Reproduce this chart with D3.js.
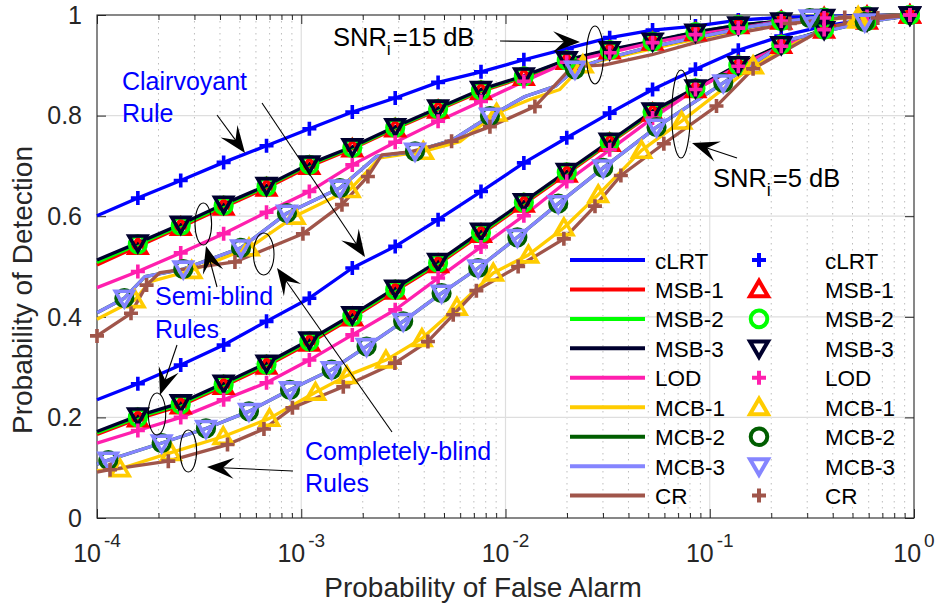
<!DOCTYPE html>
<html><head><meta charset="utf-8">
<script src="https://cdn.jsdelivr.net/npm/d3@7"></script>
<style>body{margin:0;background:#fff}svg{display:block}text{font-family:"Liberation Sans",Arial,Helvetica,sans-serif}</style>
</head><body>
<svg id="chart" width="938" height="606"></svg>
<script>
// ---------------- DATA ----------------
const seriesNames   = ["cLRT","MSB-1","MSB-2","MSB-3","LOD","MCB-1","MCB-2","MCB-3","CR"];
const seriesColors  = ["#0000ff","#ff0000","#00ff00","#00002e","#ff1fae","#ffcc00","#005e00","#8585ff","#a0554a"];
const seriesMarkers = ["plus","triUp","circle","triDown","plus","triUp","circle","triDown","plus"];
const yTicks = [0,0.2,0.4,0.6,0.8,1];
const yTickLabels = ["0","0.2","0.4","0.6","0.8","1"];
const xDecades = [1e-4,1e-3,1e-2,1e-1,1];
const xDecadeExp = ["-4","-3","-2","-1","0"];

// common Pfa grid (cLRT, MSB-1/2/3, LOD)
const pfaGrid = [1e-4,1.585e-4,2.570e-4,4.169e-4,6.761e-4,1.096e-3,1.778e-3,2.884e-3,4.677e-3,7.586e-3,
                 1.230e-2,1.995e-2,3.236e-2,5.248e-2,8.511e-2,0.1380,0.2239,0.3631,0.5888,0.955];
// SNR = 15 dB
const cLRT_15 = [0.601,0.636,0.671,0.707,0.740,0.774,0.807,0.835,0.866,0.887,0.911,0.933,0.955,0.970,0.978,0.990,0.995,0.997,0.999,1.0];
const msb1_15 = [0.503,0.540,0.578,0.618,0.656,0.699,0.734,0.774,0.811,0.848,0.876,0.908,0.929,0.946,0.965,0.979,0.988,0.995,0.998,1.0];
const msb2_15 = [0.508,0.544,0.581,0.621,0.659,0.702,0.736,0.776,0.813,0.850,0.878,0.910,0.930,0.947,0.966,0.980,0.988,0.995,0.998,1.0];
const msb3_15 = [0.513,0.547,0.584,0.624,0.661,0.704,0.738,0.778,0.815,0.852,0.879,0.911,0.931,0.948,0.966,0.980,0.988,0.995,0.998,1.0];
const lod_15  = [0.458,0.490,0.527,0.565,0.608,0.649,0.702,0.747,0.789,0.828,0.868,0.906,0.925,0.945,0.961,0.974,0.988,0.994,0.997,1.0];
// SNR = 5 dB
const cLRT_5 = [0.235,0.267,0.304,0.344,0.391,0.437,0.497,0.540,0.593,0.649,0.706,0.756,0.805,0.852,0.892,0.930,0.958,0.978,0.992,1.0];
const msb1_5 = [0.166,0.197,0.223,0.262,0.302,0.348,0.398,0.451,0.504,0.564,0.624,0.684,0.745,0.805,0.852,0.899,0.940,0.970,0.988,1.0];
const msb2_5 = [0.169,0.200,0.226,0.265,0.305,0.351,0.401,0.454,0.507,0.567,0.627,0.687,0.747,0.807,0.854,0.900,0.941,0.971,0.988,1.0];
const msb3_5 = [0.172,0.203,0.229,0.268,0.308,0.354,0.404,0.457,0.510,0.570,0.629,0.689,0.749,0.809,0.855,0.901,0.941,0.971,0.988,1.0];
const lod_5  = [0.149,0.174,0.200,0.235,0.269,0.314,0.364,0.414,0.477,0.539,0.601,0.669,0.732,0.795,0.852,0.898,0.938,0.971,0.988,1.0];

// completely-blind rules and CR: own Pfa points; mk = 1 where a marker is drawn
const mcb1_15_pfa = [1e-4,1.534e-4,1.817e-4,2.908e-4,5.546e-4,9.31e-4,1.731e-3,2.428e-3,3.955e-3,5.98e-3,9.04e-3,1.317e-2,1.846e-2,2.393e-2,4.876e-2,8.1e-2,0.1593,0.533,1];
const mcb1_15_pd  = [0.395,0.434,0.470,0.492,0.537,0.600,0.653,0.716,0.729,0.748,0.805,0.832,0.852,0.901,0.930,0.950,0.976,0.997,1.0];
const mcb1_15_mk  = [0,1,0,1,1,1,1,0,1,0,1,0,0,1,0,0,0,1,0];
const mcb3_15_pfa = [1e-4,1.361e-4,1.717e-4,2.645e-4,5.07e-4,8.51e-4,1.546e-3,2.344e-3,3.606e-3,5.527e-3,8.39e-3,1.245e-2,1.746e-2,2.188e-2,2.94e-2,4.876e-2,8.1e-2,0.1593,0.309,1];
const mcb3_15_pd  = [0.408,0.437,0.480,0.495,0.537,0.606,0.656,0.719,0.729,0.752,0.799,0.838,0.858,0.892,0.911,0.934,0.953,0.977,0.994,1.0];
const mcb3_15_mk  = [0,1,0,1,1,1,1,0,1,0,1,0,0,1,0,0,0,0,1,0];
const mcb2_15_pfa = mcb3_15_pfa, mcb2_15_pd = mcb3_15_pd, mcb2_15_mk = mcb3_15_mk;
const cr_15_pfa = [1e-4,1.467e-4,1.749e-4,2.032e-4,4.736e-4,1.019e-3,1.582e-3,2.12e-3,2.483e-3,3.40e-3,5.445e-3,8.39e-3,1.393e-2,2.115e-2,3.07e-2,5.21e-2,8.17e-2,0.1404,0.2466,0.458,1];
const cr_15_pd  = [0.362,0.407,0.463,0.488,0.509,0.565,0.623,0.679,0.722,0.728,0.749,0.778,0.818,0.897,0.901,0.921,0.943,0.965,0.983,0.995,1.0];
const cr_15_mk  = [1,1,1,0,1,1,1,1,0,0,1,1,1,0,0,0,0,0,1,1,0];

const mcb1_5_pfa = [1e-4,1.297e-4,2.302e-4,4.15e-4,6.99e-4,1.174e-3,1.674e-3,2.598e-3,3.898e-3,5.783e-3,8.71e-3,1.295e-2,1.931e-2,2.844e-2,4.635e-2,7.28e-2,0.163,0.3294,0.533,1];
const mcb1_5_pd  = [0.094,0.098,0.130,0.162,0.198,0.250,0.283,0.314,0.357,0.419,0.487,0.523,0.577,0.643,0.731,0.789,0.899,0.965,0.990,1.0];
const mcb1_5_mk  = [0,1,1,1,1,1,1,1,1,1,1,1,1,1,1,1,1,0,1,0];
const mcb3_5_pfa = [1e-4,1.136e-4,2.073e-4,3.416e-4,5.546e-4,8.81e-4,1.409e-3,2.089e-3,3.155e-3,4.864e-3,7.35e-3,1.143e-2,1.812e-2,3.01e-2,5.49e-2,0.1164,0.2466,0.574,1];
const mcb3_5_pd  = [0.107,0.115,0.149,0.178,0.212,0.255,0.295,0.341,0.391,0.447,0.497,0.558,0.625,0.696,0.777,0.865,0.951,0.986,1.0];
const mcb3_5_mk  = [0,1,1,1,1,1,1,1,1,1,1,1,1,1,1,1,0,1,0];
const mcb2_5_pfa = mcb3_5_pfa, mcb2_5_pd = mcb3_5_pd, mcb2_5_mk = mcb3_5_mk;
const cr_5_pfa = [1e-4,1.158e-4,2.234e-4,4.354e-4,6.567e-4,9.05e-4,1.606e-3,2.875e-3,4.171e-3,5.546e-3,7.2e-3,1.153e-2,1.931e-2,2.742e-2,3.672e-2,5.96e-2,0.1079,0.163,0.373,0.665,1];
const cr_5_pd  = [0.091,0.096,0.113,0.146,0.177,0.219,0.261,0.308,0.351,0.404,0.452,0.500,0.555,0.620,0.681,0.744,0.819,0.893,0.976,0.994,1.0];
const cr_5_mk  = [0,1,1,1,1,1,1,1,1,1,1,1,1,1,1,1,1,1,0,1,0];

// ---------------- BUILD ----------------
const gridMk = pfaGrid.map((_, i) => i > 0 ? 1 : 0);
const curves = [
  [0, pfaGrid, cLRT_15, gridMk], [0, pfaGrid, cLRT_5, gridMk],
  [1, pfaGrid, msb1_15, gridMk], [1, pfaGrid, msb1_5, gridMk],
  [2, pfaGrid, msb2_15, gridMk], [2, pfaGrid, msb2_5, gridMk],
  [3, pfaGrid, msb3_15, gridMk], [3, pfaGrid, msb3_5, gridMk],
  [4, pfaGrid, lod_15, gridMk],  [4, pfaGrid, lod_5, gridMk],
  [5, mcb1_15_pfa, mcb1_15_pd, mcb1_15_mk], [5, mcb1_5_pfa, mcb1_5_pd, mcb1_5_mk],
  [6, mcb2_15_pfa, mcb2_15_pd, mcb2_15_mk], [6, mcb2_5_pfa, mcb2_5_pd, mcb2_5_mk],
  [7, mcb3_15_pfa, mcb3_15_pd, mcb3_15_mk], [7, mcb3_5_pfa, mcb3_5_pd, mcb3_5_mk],
  [8, cr_15_pfa, cr_15_pd, cr_15_mk], [8, cr_5_pfa, cr_5_pd, cr_5_mk]
].map(([s, px, py, mk]) => ({s, pts: px.map((v, i) => [v, py[i], mk[i]])}));

const L = 97, R = 914, T = 15, B = 518;
const x = d3.scaleLog().domain([1e-4, 1]).range([L, R]);
const y = d3.scaleLinear().domain([0, 1]).range([B, T]);
const svg = d3.select("#chart");
const axisCol = "#262626";

// grid
const allX = x.ticks();
const isDecade = v => Math.abs(Math.log10(v) - Math.round(Math.log10(v))) < 1e-9;
const minorX = allX.filter(v => !isDecade(v));
const gGrid = svg.append("g");
gGrid.selectAll(".mn").data(minorX).join("line")
  .attr("x1", d => x(d)).attr("x2", d => x(d)).attr("y1", T).attr("y2", B)
  .attr("stroke", "#bdbdbd").attr("stroke-width", 1).attr("stroke-dasharray", "1.5,4.5");
gGrid.selectAll(".mj").data(xDecades.slice(1, -1)).join("line")
  .attr("x1", d => x(d)).attr("x2", d => x(d)).attr("y1", T).attr("y2", B)
  .attr("stroke", "#dedede").attr("stroke-width", 1.2);
gGrid.selectAll(".my").data(yTicks.slice(1, -1)).join("line")
  .attr("x1", L).attr("x2", R).attr("y1", d => y(d)).attr("y2", d => y(d))
  .attr("stroke", "#dedede").attr("stroke-width", 1.2);

// axes (ticks inward)
function styleAxis(g){ g.select(".domain").remove(); g.selectAll("line").attr("stroke", axisCol).attr("stroke-width", 1); g.selectAll("text").remove(); }
svg.append("g").attr("transform", `translate(0,${B})`).call(d3.axisBottom(x).tickValues(xDecades).tickSize(-9).tickFormat("")).call(styleAxis);
svg.append("g").attr("transform", `translate(0,${B})`).call(d3.axisBottom(x).tickValues(minorX).tickSize(-5).tickFormat("")).call(styleAxis);
svg.append("g").attr("transform", `translate(0,${T})`).call(d3.axisTop(x).tickValues(xDecades).tickSize(-9).tickFormat("")).call(styleAxis);
svg.append("g").attr("transform", `translate(0,${T})`).call(d3.axisTop(x).tickValues(minorX).tickSize(-5).tickFormat("")).call(styleAxis);
svg.append("g").attr("transform", `translate(${L},0)`).call(d3.axisLeft(y).tickValues(yTicks).tickSize(-9).tickFormat("")).call(styleAxis);
svg.append("g").attr("transform", `translate(${R},0)`).call(d3.axisRight(y).tickValues(yTicks).tickSize(-9).tickFormat("")).call(styleAxis);
svg.append("rect").attr("x", L).attr("y", T).attr("width", R - L).attr("height", B - T)
  .attr("fill", "none").attr("stroke", axisCol).attr("stroke-width", 1.1);

// tick labels
svg.append("g").selectAll("text").data(yTicks).join("text")
  .attr("x", 82).attr("y", d => y(d)).attr("dy", "0.35em").attr("text-anchor", "end")
  .attr("font-size", 25).attr("fill", axisCol).text((d, i) => yTickLabels[i]);
const xl = svg.append("g").selectAll("text").data(xDecades).join("text")
  .attr("x", d => x(d)).attr("y", 562).attr("text-anchor", "middle")
  .attr("font-size", 25).attr("fill", axisCol);
xl.append("tspan").text("10");
xl.append("tspan").attr("dx", 3).attr("dy", -15).attr("font-size", 19).text((d, i) => xDecadeExp[i]);

// axis labels
svg.append("text").attr("x", 483).attr("y", 597).attr("text-anchor", "middle")
  .attr("font-size", 28).attr("fill", axisCol).text("Probability of False Alarm");
svg.append("text").attr("transform", "translate(32,290) rotate(-90)").attr("text-anchor", "middle")
  .attr("font-size", 28).attr("fill", axisCol).text("Probability of Detection");

// lines
const line = d3.line().x(d => x(d[0])).y(d => y(d[1]));
svg.append("g").selectAll("path").data(curves).join("path")
  .attr("d", d => line(d.pts)).attr("fill", "none")
  .attr("stroke", d => seriesColors[d.s]).attr("stroke-width", 3.3)
  .attr("stroke-linejoin", "round");

// markers
const markerPath = {
  plus: "M-7,0H7M0,-7V7",
  triUp: "M0,-8.6L9,6.9L-9,6.9Z",
  triDown: "M0,8.6L9,-6.9L-9,-6.9Z",
  circle: "M8.3,0A8.3,8.3 0 1,1 -8.3,0A8.3,8.3 0 1,1 8.3,0Z"
};
const gM = svg.append("g");
curves.forEach(c => {
  gM.append("g").selectAll("path").data(c.pts.filter(p => p[2])).join("path")
    .attr("transform", p => `translate(${x(p[0])},${y(p[1])})`)
    .attr("d", markerPath[seriesMarkers[c.s]]).attr("fill", "none")
    .attr("stroke", seriesColors[c.s]).attr("stroke-width", 3.6);
});

// legend
const legY0 = 260, legDY = 29.45;
const lg = svg.append("g");
seriesNames.forEach((n, i) => {
  const yy = legY0 + i * legDY;
  lg.append("line").attr("x1", 570).attr("x2", 645).attr("y1", yy).attr("y2", yy)
    .attr("stroke", seriesColors[i]).attr("stroke-width", 4);
  lg.append("text").attr("x", 655).attr("y", yy + 8.5).attr("font-size", 22.5).attr("fill", "#000").text(n);
  lg.append("path").attr("transform", `translate(759,${yy})`).attr("d", markerPath[seriesMarkers[i]])
    .attr("fill", "none").attr("stroke", seriesColors[i]).attr("stroke-width", 4);
  lg.append("text").attr("x", 825).attr("y", yy + 8.5).attr("font-size", 22.5).attr("fill", "#000").text(n);
});

// annotations
const an = svg.append("g");
function arrow(x1, y1, x2, y2){
  const a = Math.atan2(y2 - y1, x2 - x1);
  an.append("line").attr("x1", x1).attr("y1", y1)
    .attr("x2", x2 - 15 * Math.cos(a)).attr("y2", y2 - 15 * Math.sin(a))
    .attr("stroke", "#000").attr("stroke-width", 1.1);
  an.append("path").attr("transform", `translate(${x2},${y2}) rotate(${a * 180 / Math.PI})`)
    .attr("d", "M0,0L-27,-10.5L-16,0L-27,10.5Z").attr("fill", "#000");
}
function ell(cx, cy, rx, ry){
  an.append("ellipse").attr("cx", cx).attr("cy", cy).attr("rx", rx).attr("ry", ry)
    .attr("fill", "none").attr("stroke", "#000").attr("stroke-width", 1.1);
}
ell(595, 55, 8.5, 29); ell(681, 114, 9.2, 44);
ell(203.3, 224, 8.3, 21); ell(263.7, 254, 10.3, 21);
ell(157, 414, 8.7, 21); ell(188.3, 451, 8.3, 21);
arrow(500, 41, 580, 42);
arrow(737, 158, 692, 143);
arrow(217, 115, 245, 153);
arrow(262, 103, 365, 257);
arrow(217, 287, 206, 246);
arrow(177, 345, 160, 395);
arrow(392, 432, 277, 268);
arrow(293, 471, 207, 467);

function txt(tx, ty, s, col){ return an.append("text").attr("x", tx).attr("y", ty).attr("font-size", 25).attr("fill", col).text(s); }
txt(122, 90, "Clairvoyant", "#0000ff"); txt(122, 122, "Rule", "#0000ff");
txt(155, 305, "Semi-blind", "#0000ff"); txt(155, 338, "Rules", "#0000ff");
txt(305, 460, "Completely-blind", "#0000ff"); txt(305, 492, "Rules", "#0000ff");
function snr(tx, ty, val){
  const t = an.append("text").attr("x", tx).attr("y", ty).attr("font-size", 25.5).attr("fill", "#000");
  t.append("tspan").text("SNR");
  t.append("tspan").attr("dy", 9).attr("font-size", 18).text("i");
  t.append("tspan").attr("dy", -9).attr("dx", 2).text("=" + val + " dB");
}
snr(333, 46, "15");
snr(713, 187, "5");
</script>
</body></html>
